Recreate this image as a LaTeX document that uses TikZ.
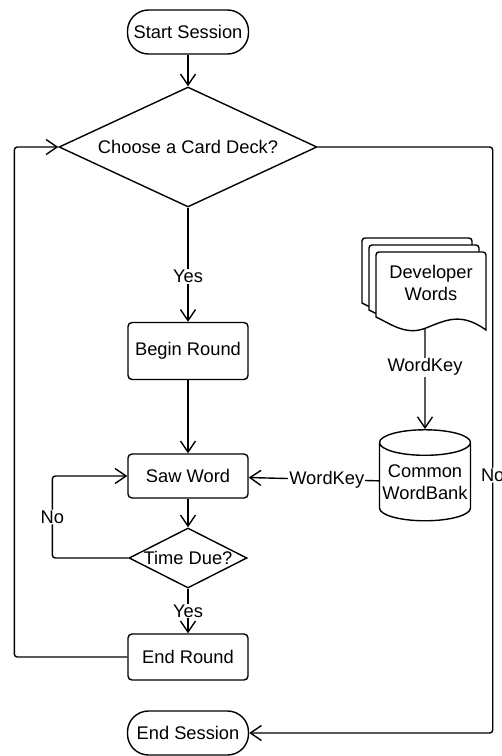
\documentclass[tikz,border=0pt]{standalone}
\usepackage{fontspec}
\setmainfont{Liberation Sans}
\usetikzlibrary{shapes.geometric,arrows.meta}

\begin{document}
\begin{tikzpicture}[x=1pt,y=-1pt,line width=1.4pt,
		every node/.style={font=\fontsize{18.3}{21.5}\selectfont},
		term/.style={draw,rectangle,rounded corners=21pt,minimum width=121pt,minimum height=44pt,inner sep=0pt},
		proc/.style={draw,rectangle,rounded corners=4pt,minimum width=120pt,inner sep=0pt},
		decision/.style={draw,diamond,aspect=2,inner sep=-2pt},
		store/.style={draw,cylinder,shape border rotate=90,aspect=0.3,minimum width=91pt,minimum height=91pt,inner sep=0pt,align=center},
		lbl/.style={fill=white,inner sep=1pt},
		arr/.style={-{Straight Barb[length=11pt,width=15pt]}}]
		\useasboundingbox (0,0) rectangle (502,756);
		\node[term] (start) at (188,32) {Start Session};
		\node[decision,minimum width=258pt,minimum height=120pt] (choose) at (188,147) {Choose a Card Deck?};
		\node[proc,minimum height=57pt] (begin) at (188,351) {Begin Round};
		\node[proc,minimum height=44pt] (saw) at (188,476) {Saw Word};
		\node[decision,minimum width=118pt,minimum height=60pt] (due) at (188,558) {Time Due?};
		\node[proc,minimum height=46pt] (endr) at (188,657) {End Round};
		\node[term] (ends) at (188,733) {End Session};
		\foreach \d in {14,7,0}
			\draw[fill=white,shift={(376-\d,252-\d)}] (0,65) [rounded corners=3pt] -- (0,0) -- (110,0) -- (110,20) [sharp corners] -- (110,78) .. controls (85,60) and (70,68) .. (50,76) .. controls (30,84) and (15,72) .. (0,65) -- cycle;
		\node[align=center] (dev) at (431,283) {Developer\\Words};
		\coordinate (devb) at (425,329);
		\node[store] (bank) at (425,482) {Common\\WordBank};
		\path[arr]
		(start) edge (choose)
		(choose) edge node[lbl,pos=0.6] {Yes} (begin)
		(begin) edge (saw)
		(saw) edge (due)
		(due) edge node[lbl] {Yes} (endr)
		(devb) edge node[lbl,pos=0.38] {WordKey} (bank)
		(bank) edge node[lbl,pos=0.4] {WordKey} (saw);
		\draw[arr,rounded corners=3pt] (due.west) -- ++(-76,0) |- node[lbl,pos=0.25] {No} (saw.west);
		\draw[arr,rounded corners=3pt] (endr.west) -- ++(-113,0) |- (choose.west);
		\draw[arr,rounded corners=3pt] (choose.east) -- ++(175,0) |- node[lbl,pos=0.28] {No} (ends.east);
\end{tikzpicture}
\end{document}
